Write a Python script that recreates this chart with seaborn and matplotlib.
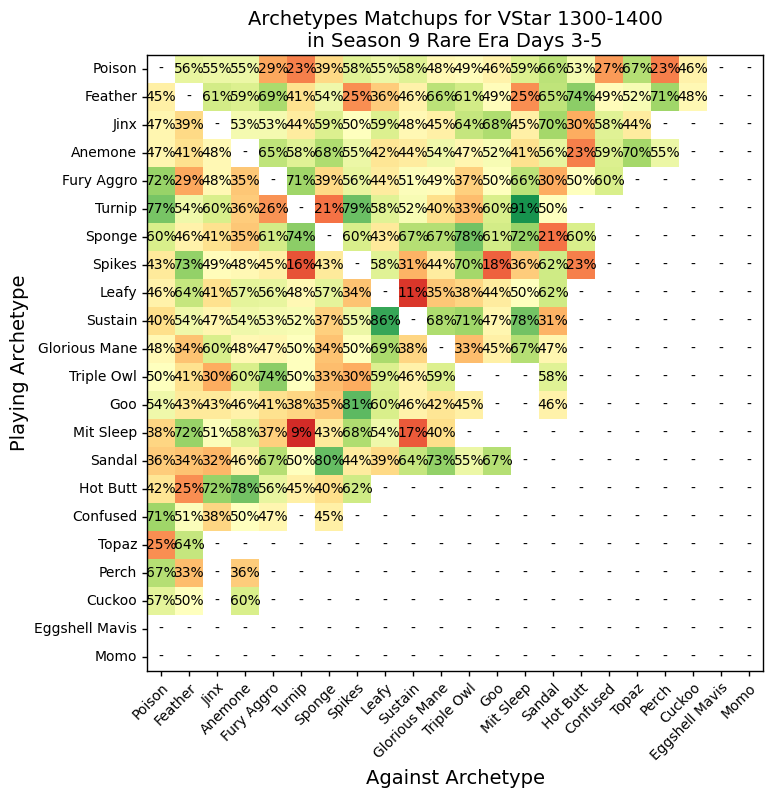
import seaborn as sns
import matplotlib.pyplot as plt
from matplotlib.colors import ListedColormap
import numpy as np
import pandas as pd

archetypes = ["Poison", "Feather", "Jinx", "Anemone", "Fury Aggro", "Turnip", "Sponge",
              "Spikes", "Leafy", "Sustain", "Glorious Mane", "Triple Owl", "Goo",
              "Mit Sleep", "Sandal", "Hot Butt", "Confused", "Topaz", "Perch", "Cuckoo",
              "Eggshell Mavis", "Momo"]

N = None
# win rate (%) of row archetype against column archetype, None = no games
win_rates = [
    [N, 56, 55, 55, 29, 23, 39, 58, 55, 58, 48, 49, 46, 59, 66, 53, 27, 67, 23, 46, N, N],
    [45, N, 61, 59, 69, 41, 54, 25, 36, 46, 66, 61, 49, 25, 65, 74, 49, 52, 71, 48, N, N],
    [47, 39, N, 53, 53, 44, 59, 50, 59, 48, 45, 64, 68, 45, 70, 30, 58, 44, N, N, N, N],
    [47, 41, 48, N, 65, 58, 68, 55, 42, 44, 54, 47, 52, 41, 56, 23, 59, 70, 55, N, N, N],
    [72, 29, 48, 35, N, 71, 39, 56, 44, 51, 49, 37, 50, 66, 30, 50, 60, N, N, N, N, N],
    [77, 54, 60, 36, 26, N, 21, 79, 58, 52, 40, 33, 60, 91, 50, N, N, N, N, N, N, N],
    [60, 46, 41, 35, 61, 74, N, 60, 43, 67, 67, 78, 61, 72, 21, 60, N, N, N, N, N, N],
    [43, 73, 49, 48, 45, 16, 43, N, 58, 31, 44, 70, 18, 36, 62, 23, N, N, N, N, N, N],
    [46, 64, 41, 57, 56, 48, 57, 34, N, 11, 35, 38, 44, 50, 62, N, N, N, N, N, N, N],
    [40, 54, 47, 54, 53, 52, 37, 55, 86, N, 68, 71, 47, 78, 31, N, N, N, N, N, N, N],
    [48, 34, 60, 48, 47, 50, 34, 50, 69, 38, N, 33, 45, 67, 47, N, N, N, N, N, N, N],
    [50, 41, 30, 60, 74, 50, 33, 30, 59, 46, 59, N, N, N, 58, N, N, N, N, N, N, N],
    [54, 43, 43, 46, 41, 38, 35, 81, 60, 46, 42, 45, N, N, 46, N, N, N, N, N, N, N],
    [38, 72, 51, 58, 37, 9, 43, 68, 54, 17, 40, N, N, N, N, N, N, N, N, N, N, N],
    [36, 34, 32, 46, 67, 50, 80, 44, 39, 64, 73, 55, 67, N, N, N, N, N, N, N, N, N],
    [42, 25, 72, 78, 56, 45, 40, 62, N, N, N, N, N, N, N, N, N, N, N, N, N, N],
    [71, 51, 38, 50, 47, N, 45, N, N, N, N, N, N, N, N, N, N, N, N, N, N, N],
    [25, 64, N, N, N, N, N, N, N, N, N, N, N, N, N, N, N, N, N, N, N, N],
    [67, 33, N, 36, N, N, N, N, N, N, N, N, N, N, N, N, N, N, N, N, N, N],
    [57, 50, N, 60, N, N, N, N, N, N, N, N, N, N, N, N, N, N, N, N, N, N],
    [N] * 22,
    [N] * 22,
]

df = pd.DataFrame(win_rates, index=archetypes, columns=archetypes, dtype=float)
labels = df.map(lambda v: "-" if np.isnan(v) else f"{v:.0f}%")

fig = plt.figure(figsize=(7.73, 7.98), dpi=100)
ax = fig.add_axes([0.1902, 0.1591, 0.7969, 0.7719])

# white base layer carries every label, including "-" for empty matchups
sns.heatmap(df.isna().astype(float), ax=ax, cmap=ListedColormap(["white"]), cbar=False,
            annot=labels, fmt="", annot_kws={"color": "black", "fontsize": 10})
# coloured win rates on top
sns.heatmap(df, ax=ax, cmap="RdYlGn", vmin=0, vmax=100, cbar=False)
for t in ax.texts:
    t.set_zorder(5)

for s in ax.spines.values():
    s.set_visible(True)
    s.set_color("black")
    s.set_linewidth(1)

ax.set_xticklabels(archetypes, rotation=45, ha="right", rotation_mode="anchor", fontsize=10)
ax.set_yticklabels(archetypes, rotation=0, fontsize=10)
ax.tick_params(length=3.5, width=1)
ax.set_xlabel("Against Archetype", fontsize=14)
ax.set_ylabel("Playing Archetype", fontsize=14)
ax.set_title("Archetypes Matchups for VStar 1300-1400\nin Season 9 Rare Era Days 3-5", fontsize=14)

fig.savefig("out.png", dpi=100)
